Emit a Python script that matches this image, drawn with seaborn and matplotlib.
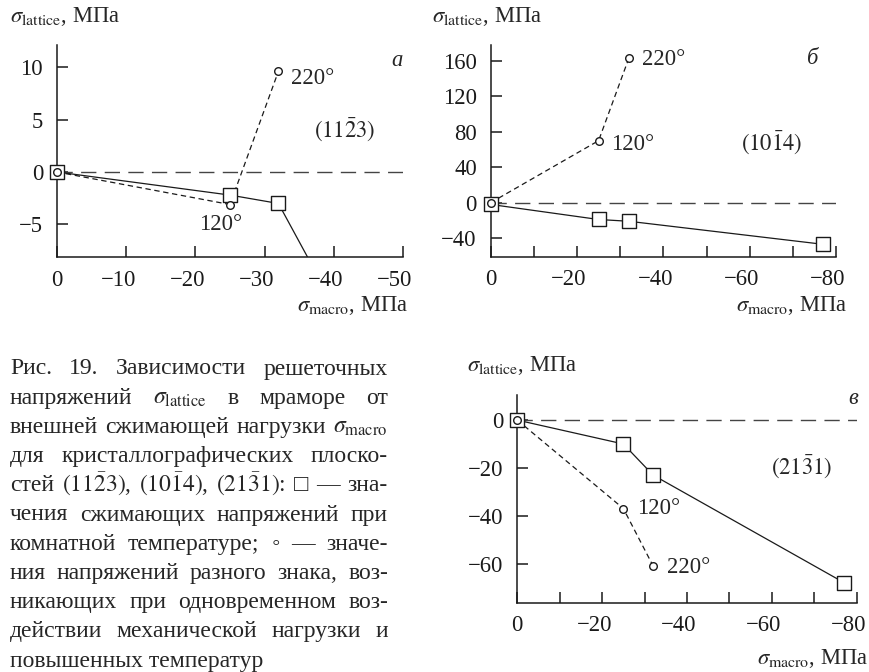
import matplotlib
matplotlib.use("Agg")
import matplotlib.pyplot as plt
import matplotlib.transforms as mtransforms
import seaborn as sns

# ---- data -------------------------------------------------------------
# panel а, plane (11-23)
a_sq_x = [0, -25, -32]
a_sq_y = [0, -2.2, -3.0]
a_tail_x = [-32, -36.2]          # solid line continues below the axis
a_tail_y = [-3.0, -8.1]
a_ci_x = [0, -25, -32]
a_ci_y = [0, -3.1, 9.6]

# panel б, plane (10-14)
b_sq_x = [0, -25, -32, -77]
b_sq_y = [-2, -19, -21, -47]
b_ci_x = [0, -25, -32]
b_ci_y = [0, 70, 163]

# panel в, plane (21-31)
c_sq_x = [0, -25, -32, -77]
c_sq_y = [0, -10, -23, -68]
c_ci_x = [0, -25, -32]
c_ci_y = [0, -37, -61]

temp_labels = ["120°", "220°"]

a_xticks = [0, -10, -20, -30, -40, -50]
a_yticks = [10, 5, 0, -5]
b_xticks = [0, -10, -20, -30, -40, -50, -60, -70, -80]
b_yticks = [160, 120, 80, 40, 0, -40]
c_xticks = [0, -10, -20, -30, -40, -50, -60, -70, -80]
c_yticks = [0, -20, -40, -60]

caption = [
    "Рис. 19. Зависимости решеточных",
    r"напряжений $\sigma_{\mathrm{lattice}}$ в мраморе от",
    r"внешней сжимающей нагрузки $\sigma_{\mathrm{macro}}$",
    "для кристаллографических плоско-",
    r"стей $(11\bar{2}3)$, $(10\bar{1}4)$, $(21\bar{3}1)$: □ — зна-",
    "чения сжимающих напряжений при",
    "комнатной температуре; ◦ — значе-",
    "ния напряжений разного знака, воз-",
    "никающих при одновременном воз-",
    "действии механической нагрузки и",
    "повышенных температур",
]

# ---- style ------------------------------------------------------------
sns.set_theme(style="ticks")
plt.rcParams["font.family"] = ["Liberation Serif", "DejaVu Serif"]
plt.rcParams["mathtext.fontset"] = "stix"
plt.rcParams["axes.unicode_minus"] = True

FS = 16.3
CFS = 17
W, H = 870, 672
fig = plt.figure(figsize=(W / 100, H / 100), dpi=100)


def rect(left, right, top, bottom):
    return [left / W, 1 - bottom / H, (right - left) / W, (bottom - top) / H]


def fpos(x, y):
    return x / W, 1 - y / H


def lab(v):
    return str(v).replace("-", "−")


LONG_DASH = (0, (11, 6))
SHORT_DASH = (0, (4.3, 2.9))
MINUS_SHIFT = mtransforms.ScaledTranslation(-8 / 100, 0, fig.dpi_scale_trans)


def panel(ax, xlim, ylim, xticks, xlabels, yticks, sq_x, sq_y, ci_x, ci_y):
    ax.set_xlim(*xlim)
    ax.set_ylim(*ylim)
    ax.axhline(0, color="#444444", lw=1.0, ls=LONG_DASH, zorder=1)
    sns.lineplot(x=ci_x, y=ci_y, ax=ax, color="k", lw=0.9, ls=SHORT_DASH,
                 sort=False, estimator=None, zorder=2)
    sns.lineplot(x=sq_x, y=sq_y, ax=ax, color="k", lw=0.9,
                 sort=False, estimator=None, zorder=2)
    sns.scatterplot(x=sq_x, y=sq_y, ax=ax, marker="s", s=95, color="white",
                    edgecolor="k", linewidth=1.0, zorder=3, clip_on=False)
    sns.scatterplot(x=ci_x, y=ci_y, ax=ax, marker="o", s=30, color="white",
                    edgecolor="k", linewidth=1.0, zorder=4, clip_on=False)
    ax.set_xticks(xticks)
    ax.set_xticklabels(xlabels)
    ax.set_yticks(yticks)
    ax.set_yticklabels([lab(v) for v in yticks])
    ax.tick_params(direction="in", length=8, width=1.1, color="k",
                   labelsize=FS, labelcolor="k")
    ax.tick_params(axis="x", pad=9)
    ax.tick_params(axis="y", pad=10)
    for t in ax.get_xticklabels():
        if t.get_text().startswith("−"):
            t.set_transform(t.get_transform() + MINUS_SHIFT)
    sns.despine(ax=ax)
    for s in ("left", "bottom"):
        ax.spines[s].set_linewidth(1.1)
        ax.spines[s].set_color("k")
    ax.set_xlabel("")
    ax.set_ylabel("")
    ax.set_facecolor("white")
    ax.grid(False)


# panel а
ax_a = fig.add_axes(rect(57, 403, 45, 257))
panel(ax_a, (0, -50), (-8.1, 12.1), a_xticks, [lab(v) for v in a_xticks],
      a_yticks, a_sq_x, a_sq_y, a_ci_x, a_ci_y)
sns.lineplot(x=a_tail_x, y=a_tail_y, ax=ax_a, color="k", lw=0.9,
             sort=False, estimator=None, zorder=2)
ax_a.annotate(temp_labels[0], (a_ci_x[1], a_ci_y[1]), xytext=(-9, -20),
              textcoords="offset pixels", ha="center", va="center", fontsize=FS)
ax_a.annotate(temp_labels[1], (a_ci_x[2], a_ci_y[2]), xytext=(13, -7),
              textcoords="offset pixels", ha="left", va="center", fontsize=FS)

# panel б
ax_b = fig.add_axes(rect(490.7, 836, 45, 256.7))
panel(ax_b, (0, -80), (-61, 178), b_xticks,
      [lab(v) if v % 20 == 0 else "" for v in b_xticks],
      b_yticks, b_sq_x, b_sq_y, b_ci_x, b_ci_y)
ax_b.annotate(temp_labels[0], (b_ci_x[1], b_ci_y[1]), xytext=(12, -4),
              textcoords="offset pixels", ha="left", va="center", fontsize=FS)
ax_b.annotate(temp_labels[1], (b_ci_x[2], b_ci_y[2]), xytext=(13, -1),
              textcoords="offset pixels", ha="left", va="center", fontsize=FS)

# panel в
ax_c = fig.add_axes(rect(517.3, 856.7, 395, 602.7))
panel(ax_c, (0, -80), (-76.4, 10.5), c_xticks,
      [lab(v) if v % 20 == 0 else "" for v in c_xticks],
      c_yticks, c_sq_x, c_sq_y, c_ci_x, c_ci_y)
ax_c.annotate(temp_labels[0], (c_ci_x[1], c_ci_y[1]), xytext=(14, 0),
              textcoords="offset pixels", ha="left", va="center", fontsize=FS)
ax_c.annotate(temp_labels[1], (c_ci_x[2], c_ci_y[2]), xytext=(14, -2),
              textcoords="offset pixels", ha="left", va="center", fontsize=FS)

# axis titles
ylab = r"$\sigma_{\mathrm{lattice}}$, МПа"
xlab = r"$\sigma_{\mathrm{macro}}$, МПа"
fig.text(*fpos(10, 16), ylab, fontsize=FS, ha="left", va="center")
fig.text(*fpos(432, 16), ylab, fontsize=FS, ha="left", va="center")
fig.text(*fpos(467, 366), ylab, fontsize=FS, ha="left", va="center")
fig.text(*fpos(408, 306), xlab, fontsize=FS, ha="right", va="center")
fig.text(*fpos(847, 306), xlab, fontsize=FS, ha="right", va="center")
fig.text(*fpos(868, 659), xlab, fontsize=FS, ha="right", va="center")

# plane indices and panel letters
fig.text(*fpos(345, 130), r"$(11\bar{2}3)$", fontsize=FS, ha="center", va="center")
fig.text(*fpos(772, 143), r"$(10\bar{1}4)$", fontsize=FS, ha="center", va="center")
fig.text(*fpos(802, 467), r"$(21\bar{3}1)$", fontsize=FS, ha="center", va="center")
fig.text(*fpos(397, 60), "а", fontsize=FS, style="italic", ha="center", va="center")
fig.text(*fpos(813, 58), "б", fontsize=FS, style="italic", ha="center", va="center")
fig.text(*fpos(853, 398), "в", fontsize=FS, style="italic", ha="center", va="center")

# justified caption block
renderer = fig.canvas.get_renderer()
left, right = 10, 388
base0, step = 374.5, 29.2
for i, line in enumerate(caption):
    yb = base0 + i * step
    if i == len(caption) - 1:
        fig.text(*fpos(left, yb), line, fontsize=CFS, ha="left", va="baseline")
        continue
    words = line.split(" ")
    items = [fig.text(0, 0, w, fontsize=CFS, ha="left", va="baseline") for w in words]
    widths = [t.get_window_extent(renderer).width for t in items]
    gap = (right - left - sum(widths)) / max(len(words) - 1, 1)
    x = left
    for t, w in zip(items, widths):
        t.set_position(fpos(x, yb))
        x += w + gap

fig.savefig("out.png", dpi=100, facecolor="white")
